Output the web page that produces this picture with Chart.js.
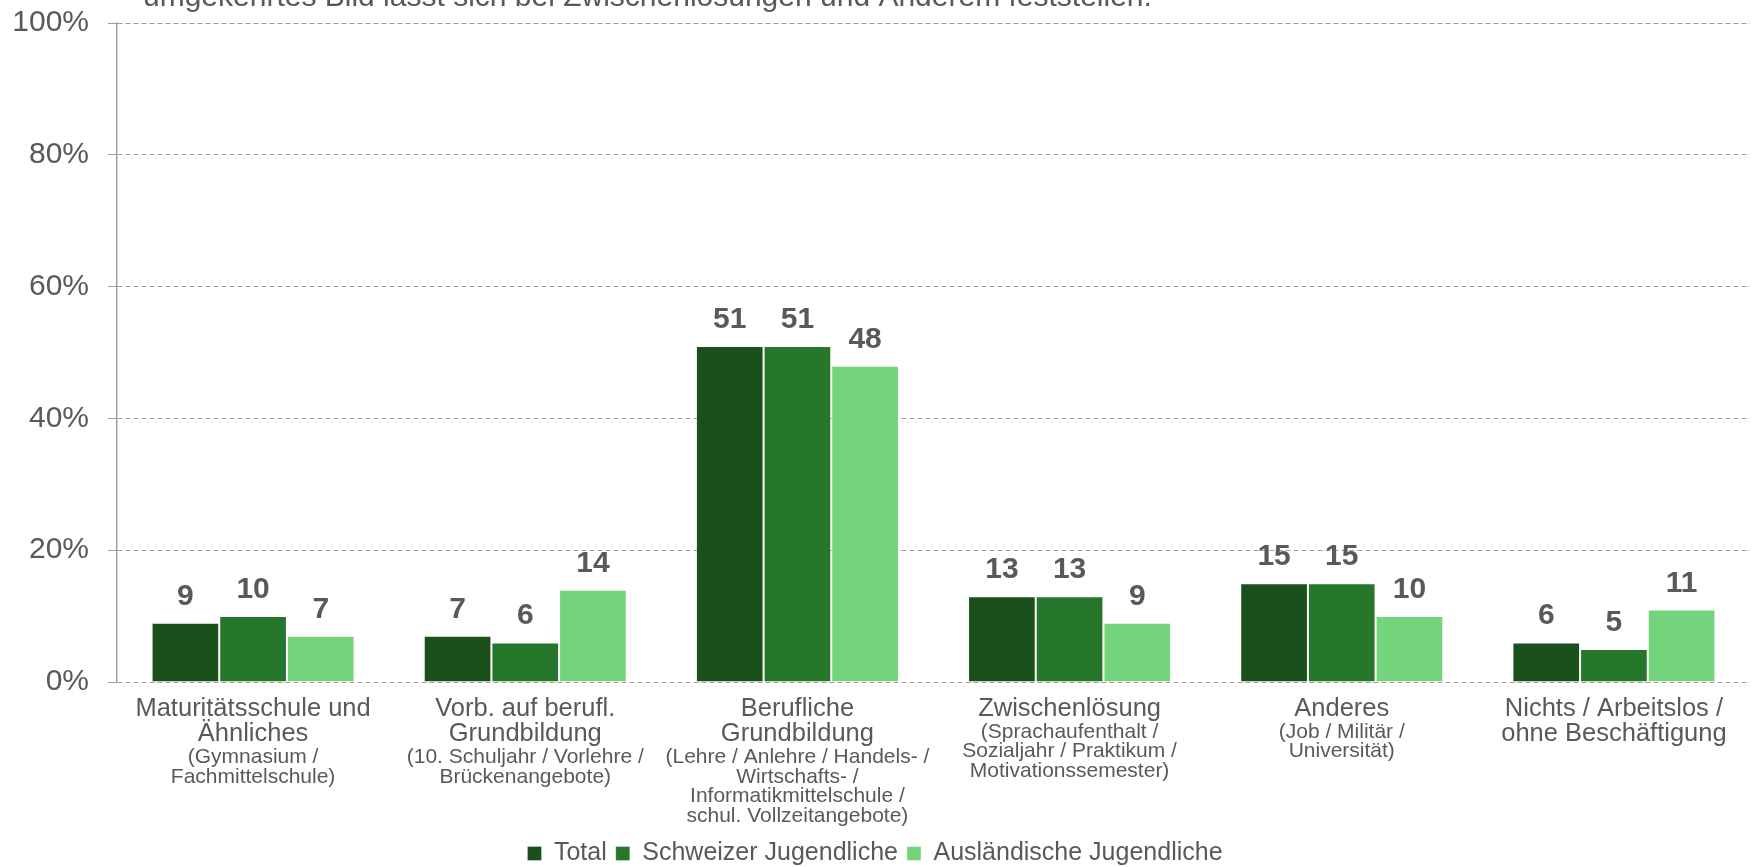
<!DOCTYPE html>
<html><head><meta charset="utf-8">
<script src="https://cdn.jsdelivr.net/npm/chart.js@4/dist/chart.umd.min.js"></script>
<style>html,body{margin:0;padding:0;background:#fff;overflow:hidden}#wrap{position:relative;width:1752px;height:867px}</style>
</head><body><div id="wrap"><canvas id="c" width="1752" height="867"></canvas></div>
<script>
const categories = [
  ['Maturitätsschule und', 'Ähnliches'],
  ['Vorb. auf berufl.', 'Grundbildung'],
  ['Berufliche', 'Grundbildung'],
  ['Zwischenlösung'],
  ['Anderes'],
  ['Nichts / Arbeitslos /', 'ohne Beschäftigung']
];
const subLabels = [
  ['(Gymnasium /', 'Fachmittelschule)'],
  ['(10. Schuljahr / Vorlehre /', 'Brückenangebote)'],
  ['(Lehre / Anlehre / Handels- /', 'Wirtschafts- /', 'Informatikmittelschule /', 'schul. Vollzeitangebote)'],
  ['(Sprachaufenthalt /', 'Sozialjahr / Praktikum /', 'Motivationssemester)'],
  ['(Job / Militär /', 'Universität)'],
  []
];
const seriesNames = ['Total', 'Schweizer Jugendliche', 'Ausländische Jugendliche'];
const totalValues = [9, 7, 51, 13, 15, 6];
const swissValues = [10, 6, 51, 13, 15, 5];
const foreignValues = [7, 14, 48, 9, 10, 11];
const yTickValues = [0, 20, 40, 60, 80, 100];
const introText = 'umgekehrtes Bild lässt sich bei Zwischenlösungen und Anderem feststellen.';

const FONT = '"Liberation Sans", Arial, Helvetica, sans-serif';
const TEXT = '#595959';

const extras = {
  id: 'extras',
  afterDatasetsDraw(chart) {
    const ctx = chart.ctx;
    ctx.save();
    ctx.font = 'bold 30px ' + FONT;
    ctx.fillStyle = TEXT;
    ctx.textAlign = 'center';
    ctx.textBaseline = 'alphabetic';
    chart.data.datasets.forEach((ds, di) => {
      const meta = chart.getDatasetMeta(di);
      meta.data.forEach((el, i) => {
        ctx.fillText(String(ds.data[i]), el.x, el.y - 18);
      });
    });
    ctx.restore();
  },
  afterDraw(chart) {
    const ctx = chart.ctx;
    const xs = chart.scales.x;
    ctx.save();
    ctx.fillStyle = TEXT;
    ctx.textAlign = 'center';
    ctx.textBaseline = 'alphabetic';
    ctx.font = '21px ' + FONT;
    subLabels.forEach((lines, i) => {
      const x = xs.getPixelForValue(i);
      const y0 = xs.top + 30 + categories[i].length * 25.5;
      lines.forEach((t, k) => ctx.fillText(t, x, y0 + k * 19.7));
    });
    ctx.font = '30px ' + FONT;
    ctx.textAlign = 'left';
    ctx.fillText(introText, 143, 6);
    ctx.restore();
  }
};

new Chart(document.getElementById('c'), {
  type: 'bar',
  data: {
    labels: categories,
    datasets: [
      { label: seriesNames[0], data: totalValues, backgroundColor: '#1b4f1c' },
      { label: seriesNames[1], data: swissValues, backgroundColor: '#26762b' },
      { label: seriesNames[2], data: foreignValues, backgroundColor: '#74d47b' }
    ].map(d => Object.assign(d, { borderColor: 'rgba(255,255,255,0.3)', borderWidth: 1, categoryPercentage: 0.746, barPercentage: 1.0 }))
  },
  options: {
    responsive: false,
    devicePixelRatio: 1,
    animation: false,
    layout: { padding: { top: 9, right: 2, left: 0, bottom: 0 } },
    plugins: {
      tooltip: { enabled: false },
      legend: {
        position: 'bottom',
        maxHeight: 35,
        labels: { font: { size: 25, family: FONT }, color: TEXT, boxWidth: 14, boxHeight: 14, padding: 9 }
      }
    },
    scales: {
      x: {
        grid: { display: false },
        border: { display: false },
        ticks: { font: { size: 25.5, family: FONT, lineHeight: 1.0 }, color: TEXT, padding: 6, maxRotation: 0, autoSkip: false },
        afterFit(s) { s.height = 150; }
      },
      y: {
        min: 0, max: 100,
        afterBuildTicks(s) { s.ticks = yTickValues.map(v => ({ value: v })); },
        ticks: { font: { size: 30, family: FONT, lineHeight: 0.2667 }, color: TEXT, padding: 19, callback: v => v + '%' },
        grid: { color: '#a0a0a0', lineWidth: 1, tickLength: 9, drawTicks: true, tickColor: '#a0a0a0' },
        border: { display: true, color: '#a0a0a0', width: 1.5, dash: [5, 3] },
        afterFit(s) { s.width = 117; }
      }
    }
  },
  plugins: [extras]
});
</script></body></html>
